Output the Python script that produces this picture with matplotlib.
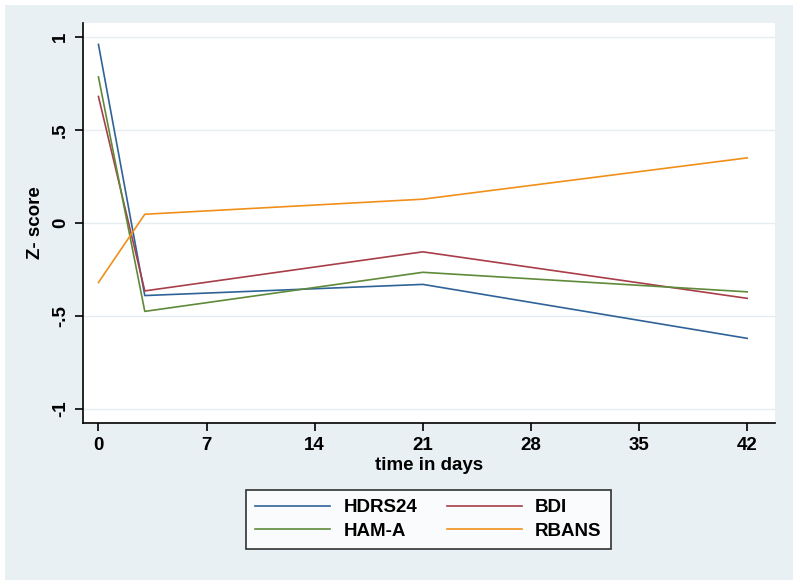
import matplotlib
matplotlib.use("Agg")
import matplotlib.pyplot as plt
from matplotlib.patches import Rectangle

days = [0, 3, 21, 42]
hdrs24 = [0.96, -0.39, -0.33, -0.62]
bdi = [0.68, -0.365, -0.155, -0.405]
hama = [0.785, -0.475, -0.265, -0.37]
rbans = [-0.32, 0.047, 0.128, 0.35]
xticks = [0, 7, 14, 21, 28, 35, 42]
yticks = [-1, -0.5, 0, 0.5, 1]
ytick_labels = ["-1", "-.5", "0", ".5", "1"]

plt.rcParams['font.family'] = ['Liberation Sans', 'DejaVu Sans']

fig = plt.figure(figsize=(8.0, 5.86), dpi=100)
W, H = 800, 586
bg = "#E9F0F3"
fig.patches.append(Rectangle((5 / W, 1 - 580 / H), 788 / W, 575 / H,
                             transform=fig.transFigure, facecolor=bg,
                             edgecolor='none', zorder=-10))

ax = fig.add_axes([83 / W, 1 - 423 / H, (775 - 83) / W, (423 - 23) / H])
ax.set_facecolor("white")

cols = ["#2f6398", "#a83e4a", "#5f8a39", "#f0901a"]
ax.plot(days, hdrs24, color=cols[0], lw=1.2, label="HDRS24")
ax.plot(days, bdi, color=cols[1], lw=1.2, label="BDI")
ax.plot(days, hama, color=cols[2], lw=1.2, label="HAM-A")
ax.plot(days, rbans, color=cols[3], lw=1.2, label="RBANS")

ax.set_xlim(-1.0, 43.8)
ax.set_ylim(-1.075, 1.075)
ax.set_xticks(xticks)
ax.set_yticks(yticks)
ax.set_yticklabels(ytick_labels, rotation=90, va='center')
ax.grid(axis='y', color="#E5EDF0", lw=1.0)
ax.set_axisbelow(True)
for s in ['top', 'right']:
    ax.spines[s].set_visible(False)
for s in ['left', 'bottom']:
    ax.spines[s].set_linewidth(1.2)
ax.tick_params(axis='both', direction='out', length=6, width=1.2,
               labelsize=13.5, pad=4)
for lab in ax.get_xticklabels() + ax.get_yticklabels():
    lab.set_fontweight('bold')

ax.set_xlabel("time in days", fontsize=13.5, fontweight='bold', labelpad=2)
ax.set_ylabel("Z- score", fontsize=13.5, fontweight='bold', labelpad=6)

h, l = ax.get_legend_handles_labels()
order = [0, 2, 1, 3]
leg = fig.legend([h[i] for i in order], [l[i] for i in order], ncol=2,
                 loc='center', bbox_to_anchor=(428.5 / W, 1 - 519.5 / H),
                 frameon=True, fancybox=False,
                 prop={'weight': 'bold', 'size': 13.5},
                 handlelength=4.0, columnspacing=1.6, borderpad=0.5,
                 labelspacing=0.35, handletextpad=0.7)
leg.get_frame().set_edgecolor('black')
leg.get_frame().set_linewidth(1.2)

fig.savefig("out.png", dpi=100, facecolor="white")
